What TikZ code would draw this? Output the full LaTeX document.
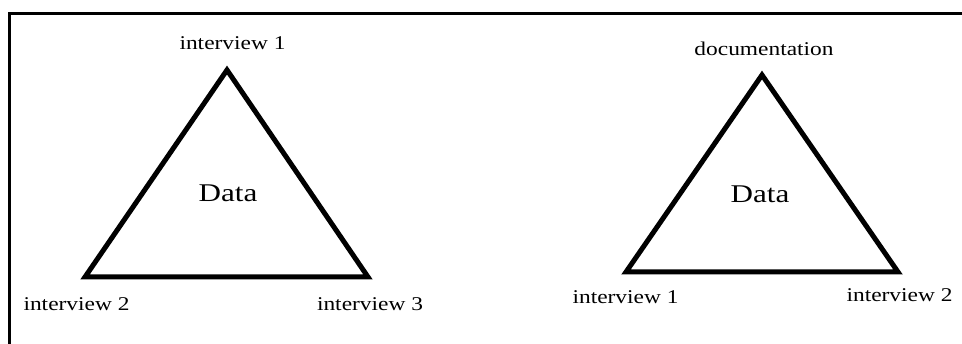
\documentclass[tikz,border=0pt]{standalone}
\usepackage{fontspec}
\setmainfont{Liberation Serif}
\usepackage{graphicx}
\usepackage{tikz}
\usetikzlibrary{positioning}

\begin{document}
\begin{tikzpicture}[
  x=1pt, y=-1pt,
  frameline/.style={line width=3pt},
  triangle/.style={line width=5pt},
  corner/.style={font=\fontsize{19.5}{22}\selectfont, anchor=base, inner sep=0pt},
  centre/.style={font=\fontsize{25.5}{30}\selectfont, anchor=base, inner sep=0pt}
]
\useasboundingbox (0,0) rectangle (962,344);
\draw[frameline] (9,344) -- (9,14) -- (962,14);

\coordinate (l_top) at (227,70);
\coordinate (l_left) at (85,277);
\coordinate (l_right) at (368,277);
\draw[triangle] (l_top) -- (l_left) -- (l_right) -- cycle;

\coordinate (r_top) at (762,75);
\coordinate (r_left) at (626,272);
\coordinate (r_right) at (898,272);
\draw[triangle] (r_top) -- (r_left) -- (r_right) -- cycle;

\node[centre] (l_data) at (228,202) {\scalebox{1.22}[1]{Data}};
\node[corner] (l_int1) at (232.5,50) {\scalebox{1.2}[1]{interview 1}};
\node[corner] (l_int2) at (76.5,311) {\scalebox{1.2}[1]{interview 2}};
\node[corner] (l_int3) at (370,311) {\scalebox{1.2}[1]{interview 3}};

\node[centre] (r_data) at (760,203) {\scalebox{1.22}[1]{Data}};
\node[corner] (r_doc) at (764,56) {\scalebox{1.2}[1]{documentation}};
\node[corner] (r_int1) at (625.5,304) {\scalebox{1.2}[1]{interview 1}};
\node[corner] (r_int2) at (899.5,302) {\scalebox{1.2}[1]{interview 2}};
\end{tikzpicture}
\end{document}
